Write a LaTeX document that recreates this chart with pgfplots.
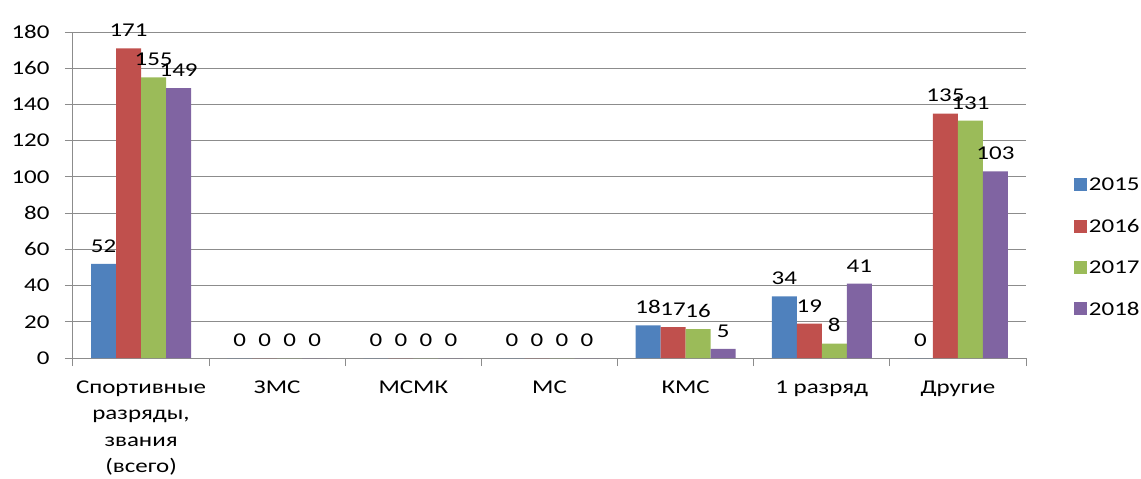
\documentclass[border=0pt]{standalone}
\usepackage{fontspec}
\setmainfont{Carlito}[FakeStretch=1.28]
\usepackage{pgfplots}
\pgfplotsset{compat=1.18}
\definecolor{cA}{HTML}{4F81BD}
\definecolor{cB}{HTML}{C0504D}
\definecolor{cC}{HTML}{9BBB59}
\definecolor{cD}{HTML}{8064A2}
\definecolor{gridc}{HTML}{8C8C8C}
\begin{document}
\begin{tikzpicture}
\useasboundingbox (0,0) rectangle (1141pt,-479pt);
\begin{axis}[
    at={(73pt,-358pt)}, anchor=south west,
    scale only axis, width=953pt, height=326pt,
    ybar=0pt, bar width=25pt,
    xmin=-0.5, xmax=6.5, ymin=0, ymax=180,
    ytick={0,20,...,180},
    xtick={0,...,6},
    xticklabels={{Спортивные\\разряды,\\звания\\(всего)},ЗМС,МСМК,МС,КМС,1 разряд,Другие},
    minor xtick={-0.5,0.5,...,6.5},
    major x tick style={draw=none},
    major tick length=8pt, minor tick length=8pt,
    tick align=outside,
    axis x line*=bottom, axis y line*=left,
    axis line style={gridc, line width=1pt},
    tick style={gridc, line width=1pt},
    ymajorgrids, grid style={gridc, line width=0.9pt},
    font=\fontsize{19.5}{28}\selectfont,
    xticklabel style={align=center, yshift=-11pt, font=\fontsize{19.5}{26.5}\selectfont},
    yticklabel style={xshift=-12pt},
    /pgf/number format/assume math mode=true,
    nodes near coords,
    every node near coord/.append style={font=\fontsize{19.5}{28}\selectfont, yshift=8pt, text=black},
    legend image code/.code={\fill[#1] (-5pt,-6pt) rectangle (8pt,7pt);},
    legend style={at={(1.047,0.565)}, anchor=north west, draw=none, fill=none,
        row sep=23pt, font=\fontsize{19.5}{28}\selectfont},
    legend cell align=left,
]
\addplot[fill=cA, draw=none] coordinates {(0,52) (1,0) (2,0) (3,0) (4,18) (5,34) (6,0)};
\addplot[fill=cB, draw=none] coordinates {(0,171) (1,0) (2,0) (3,0) (4,17) (5,19) (6,135)};
\addplot[fill=cC, draw=none] coordinates {(0,155) (1,0) (2,0) (3,0) (4,16) (5,8) (6,131)};
\addplot[fill=cD, draw=none] coordinates {(0,149) (1,0) (2,0) (3,0) (4,5) (5,41) (6,103)};
\legend{2015,2016,2017,2018}
\end{axis}
\end{tikzpicture}
\end{document}
